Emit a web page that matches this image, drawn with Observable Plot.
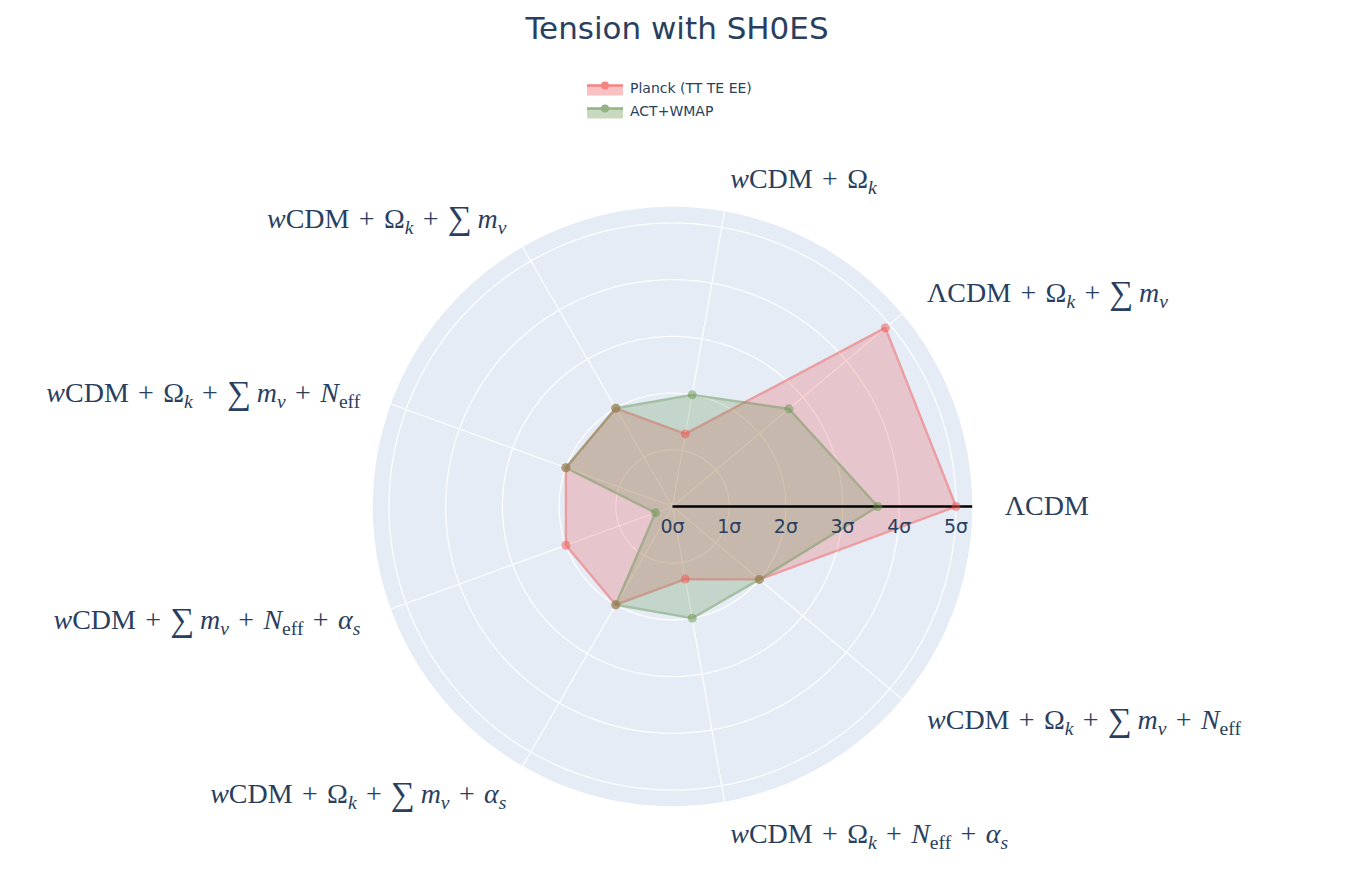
<!DOCTYPE html>
<html>
<head>
<meta charset="utf-8">
<script src="https://cdn.jsdelivr.net/npm/d3@7"></script>
<script src="https://cdn.jsdelivr.net/npm/@observablehq/plot@0.6"></script>
<style>
  body { margin: 0; background: #fff; font-family: "DejaVu Sans", Verdana, sans-serif; color: #2a3f5f; }
  #wrap { position: relative; width: 1364px; }
  #head { position: relative; height: 130px; }
  #title { position: absolute; left: 0; width: 1354px; top: 10px; text-align: center; font-size: 31px; line-height: 36px; }
  #legend { position: absolute; left: 587px; top: 76px; font-size: 14px; }
  .item { display: flex; align-items: center; height: 23px; }
  .item svg { margin-right: 7px; }
  #chart svg { display: block; }
</style>
</head>
<body>
<div id="wrap">
  <div id="head">
    <div id="title">Tension with SH0ES</div>
    <div id="legend"></div>
  </div>
  <div id="chart"></div>
</div>
<script>
// ---------- data ----------
const categories = [
  "$\\Lambda\\mathrm{CDM}$",
  "$\\Lambda\\mathrm{CDM}+\\Omega_k+\\sum m_\\nu$",
  "$w\\mathrm{CDM}+\\Omega_k$",
  "$w\\mathrm{CDM}+\\Omega_k+\\sum m_\\nu$",
  "$w\\mathrm{CDM}+\\Omega_k+\\sum m_\\nu+N_{\\rm eff}$",
  "$w\\mathrm{CDM}+\\sum m_\\nu+N_{\\rm eff}+\\alpha_s$",
  "$w\\mathrm{CDM}+\\Omega_k+\\sum m_\\nu+\\alpha_s$",
  "$w\\mathrm{CDM}+\\Omega_k+N_{\\rm eff}+\\alpha_s$",
  "$w\\mathrm{CDM}+\\Omega_k+\\sum m_\\nu+N_{\\rm eff}$"
];
const planckValues  = [5.0, 4.9, 1.3, 2.0, 2.0, 2.0, 2.0, 1.3, 2.0];
const actWmapValues = [3.62, 2.68, 2.0, 2.0, 2.0, 0.32, 2.0, 2.0, 2.0];
const seriesNames = ["Planck (TT TE EE)", "ACT+WMAP"];
const seriesColors = ["#f05250", "#65944e"];
const radialTicks = [0, 1, 2, 3, 4, 5];
const radialTickLabels = ["0σ", "1σ", "2σ", "3σ", "4σ", "5σ"];
const radialMax = 5.286;

// ---------- helpers ----------
const n = categories.length;
const theta = i => (i * 2 * Math.PI) / n;   // counter-clockwise from east
const px = (r, i) => r * Math.cos(theta(i));
const py = (r, i) => r * Math.sin(theta(i));

const GREEK = { Lambda: ["Λ", false], Omega: ["Ω", false], nu: ["ν", true], alpha: ["α", true], sum: ["∑", false] };
function parseTex(str, sub, roman, out) {
  let p = 0;
  const arg = () => {
    while (str[p] === " ") p++;
    if (str[p] === "{") {
      let d = 1, st = ++p;
      while (d) { if (str[p] === "{") d++; else if (str[p] === "}") d--; p++; }
      return str.slice(st, p - 1);
    }
    if (str[p] === "\\") { const m = str.slice(p).match(/^\\[a-zA-Z]+/)[0]; p += m.length; return m; }
    return str[p++];
  };
  while (p < str.length) {
    const ch = str[p];
    if (ch === "\\") {
      const name = str.slice(p + 1).match(/^[a-zA-Z]+/)[0];
      p += name.length + 1;
      if (name === "mathrm") parseTex(arg(), sub, true, out);
      else if (name === "rm") roman = true;
      else if (GREEK[name]) {
        const [g, it] = GREEK[name];
        out.push({ text: g, italic: it && !roman, sub, big: name === "sum" });
        if (name === "sum") out.push({ text: "\u2009", italic: false, sub, big: false });
      }
    } else if (ch === "_") { p++; parseTex(arg(), true, roman, out); }
    else if (ch === "{") { parseTex(arg(), sub, roman, out); }
    else if (ch === "+") { p++; out.push({ text: "\u2004+\u2004", italic: false, sub, big: false }); }
    else if (ch === " ") { p++; }
    else { p++; out.push({ text: ch, italic: !roman, sub, big: false }); }
  }
  return out;
}
function texRuns(tex) {
  const raw = parseTex(tex.replace(/\$/g, ""), false, false, []);
  const runs = [];
  for (const r of raw) {
    const last = runs[runs.length - 1];
    if (last && last.italic === r.italic && last.sub === r.sub && last.big === r.big) last.text += r.text;
    else runs.push({ ...r });
  }
  return runs;
}
const plainLabel = tex => texRuns(tex).map(r => r.text).join("");

// ---------- table ----------
const rows = [];
[planckValues, actWmapValues].forEach((vals, s) =>
  vals.forEach((v, i) => rows.push({ series: seriesNames[s], i, value: v }))
);
const labelRows = categories.map((c, i) => ({ tex: c, text: plainLabel(c), i }));
const anchorOf = i => { const c = Math.cos(theta(i)); return c < -0.1 ? "end" : "start"; };

const circleSamples = d3.range(0, 360, 1);
const gridRings = radialTicks.filter(t => t > 0).flatMap(r => circleSamples.map(a => ({ r, a })));

const labelFont = 28;
const labelRadius = 5.86;

const marks = [
  // background disc
  Plot.line(circleSamples, {
    x: a => radialMax * Math.cos(a * Math.PI / 180),
    y: a => radialMax * Math.sin(a * Math.PI / 180),
    curve: "linear-closed", fill: "#e5ecf6", stroke: "none"
  }),
  // grid rings
  Plot.line(gridRings, {
    x: d => d.r * Math.cos(d.a * Math.PI / 180),
    y: d => d.r * Math.sin(d.a * Math.PI / 180),
    z: "r", curve: "linear-closed", stroke: "white", strokeWidth: 1.2
  }),
  // spokes
  Plot.link(d3.range(n), {
    x1: 0, y1: 0, x2: i => px(radialMax, i), y2: i => py(radialMax, i),
    stroke: "white", strokeWidth: 1.2
  })
];

seriesNames.forEach((name, s) => {
  marks.push(Plot.line(rows.filter(d => d.series === name), {
    x: d => px(d.value, d.i), y: d => py(d.value, d.i),
    curve: "linear-closed",
    stroke: seriesColors[s], strokeWidth: 2.4,
    fill: seriesColors[s], fillOpacity: 0.5, opacity: 0.5
  }));
});

// radial axis line
marks.push(Plot.link([0], { x1: 0, y1: 0, x2: radialMax, y2: 0, stroke: "#000", strokeWidth: 2.5 }));

seriesNames.forEach((name, s) => {
  marks.push(Plot.dot(rows.filter(d => d.series === name), {
    x: d => px(d.value, d.i), y: d => py(d.value, d.i),
    r: 4.5, fill: seriesColors[s], opacity: 0.5
  }));
});

// radial tick labels
marks.push(Plot.text(radialTicks, {
  x: d => d, y: 0, dy: 20, text: (d, i) => radialTickLabels[i],
  fontSize: 19, fontFamily: "DejaVu Sans, Verdana, sans-serif", fill: "#2a3f5f"
}));

// category labels
for (const a of ["start", "middle", "end"]) {
  const subset = labelRows.filter(d => anchorOf(d.i) === a);
  if (!subset.length) continue;
  marks.push(Plot.text(subset, {
    x: d => px(labelRadius, d.i), y: d => py(labelRadius, d.i),
    text: "text", textAnchor: a,
    fontSize: labelFont, fontFamily: "Liberation Serif, Times New Roman, serif", fill: "#2a3f5f"
  }));
}

const chart = Plot.plot({
  width: 1364,
  height: 760,
  marginLeft: 372.3,
  marginRight: 392.3,
  marginTop: 76.3,
  marginBottom: 84.3,
  x: { domain: [-radialMax, radialMax], axis: null },
  y: { domain: [-radialMax, radialMax], axis: null },
  style: { background: "transparent", overflow: "visible" },
  marks
});

// rich (TeX-like) label rendering with tspans
const texByText = new Map(labelRows.map(d => [d.text, d.tex]));
d3.select(chart).selectAll("text").each(function () {
  const tex = texByText.get(this.textContent);
  if (!tex) return;
  const runs = texRuns(tex);
  const el = d3.select(this);
  el.text(null);
  let shift = 0;
  runs.forEach((r, k) => {
    const size = r.sub ? labelFont * 0.7 : r.big ? labelFont * 1.2 : labelFont;
    const want = r.sub ? labelFont * 0.22 : r.big ? labelFont * 0.06 : 0;
    const t = el.append("tspan").text(r.text)
      .attr("font-size", size)
      .attr("font-style", r.italic ? "italic" : "normal");
    if (k > 0 && want !== shift) t.attr("dy", want - shift);
    shift = want;
  });
});

document.getElementById("chart").append(chart);

// legend
const legend = d3.select("#legend");
seriesNames.forEach((name, s) => {
  const item = legend.append("div").attr("class", "item");
  const sw = item.append("svg").attr("width", 36).attr("height", 23);
  const g = sw.append("g").attr("opacity", 0.7);
  g.append("rect").attr("x", 0).attr("y", 9.5).attr("width", 36).attr("height", 10)
    .attr("fill", seriesColors[s]).attr("fill-opacity", 0.5);
  g.append("line").attr("x1", 0).attr("x2", 36).attr("y1", 9.5).attr("y2", 9.5)
    .attr("stroke", seriesColors[s]).attr("stroke-width", 2.5);
  g.append("circle").attr("cx", 18).attr("cy", 9.5).attr("r", 4).attr("fill", seriesColors[s]);
  item.append("span").text(name);
});
</script>
</body>
</html>
